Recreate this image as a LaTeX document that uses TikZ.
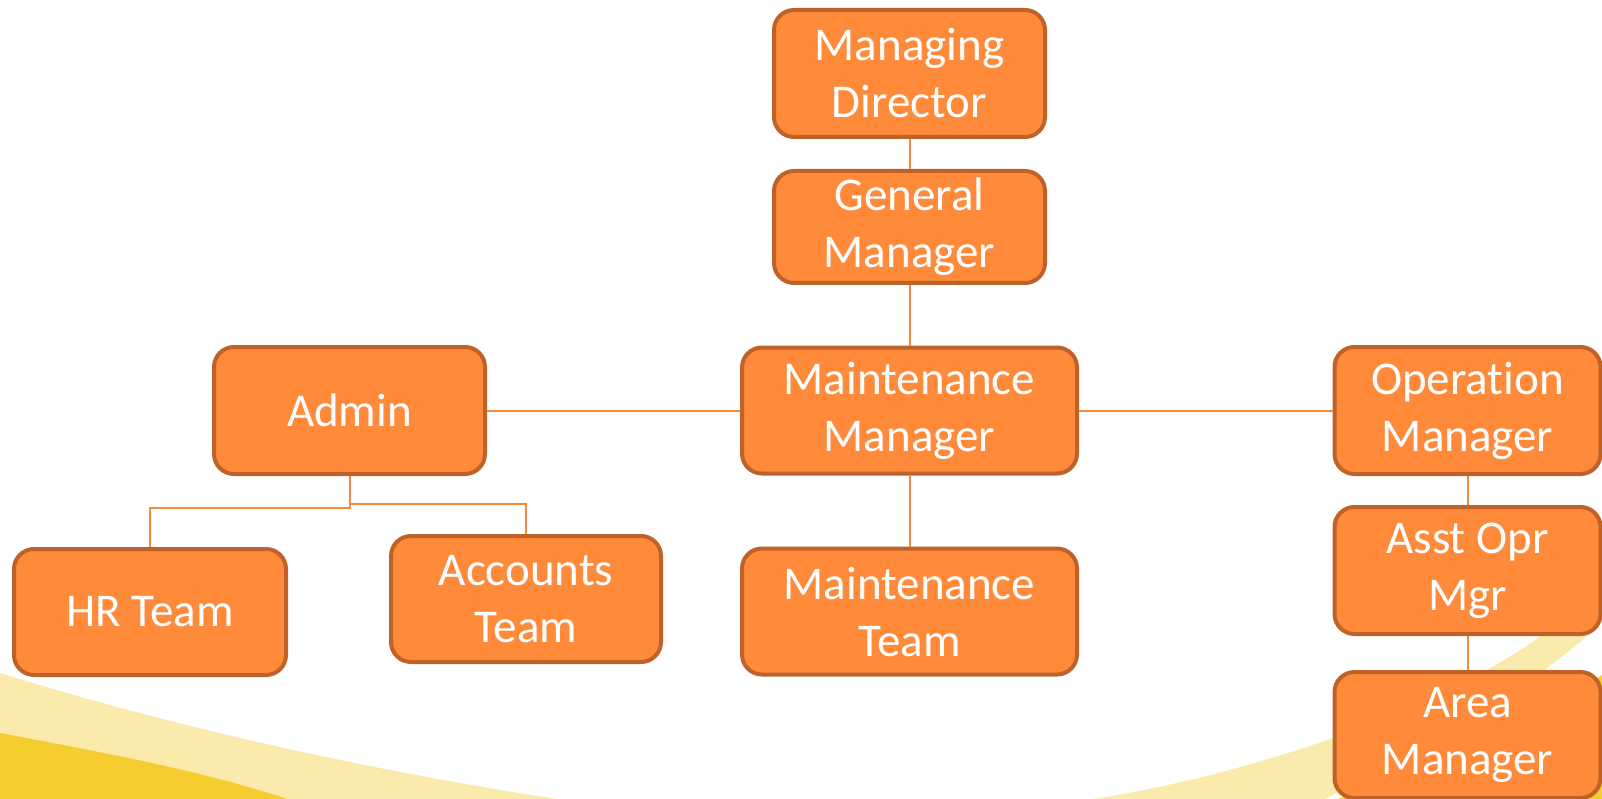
\documentclass[tikz,border=0pt]{standalone}
\usepackage{fontspec}
\setmainfont{Carlito}[RawFeature={-liga;-calt;-clig}]
\usepackage{tikz}
\usetikzlibrary{calc}

\definecolor{boxfill}{HTML}{FF8A3A}
\definecolor{boxline}{HTML}{BF6229}
\definecolor{linkcol}{HTML}{F7893B}
\definecolor{paleyel}{HTML}{FAEAAB}
\definecolor{deepyel}{HTML}{F5CD2F}

\begin{document}
\begin{tikzpicture}[x=1pt, y=-1pt,
    role/.style={draw=boxline, fill=boxfill, line width=4pt, rounded corners=20pt,
        text=white, align=center, inner sep=0pt, font=\fontsize{47}{57}\selectfont,
        minimum width=271pt, minimum height=127pt},
    wide role/.style={role, minimum width=335pt, minimum height=126pt},
    link/.style={draw=linkcol, line width=2pt}]
                    \useasboundingbox (0, 0) rectangle (1602, 799);

                    % swooshes at the bottom
                    \fill[paleyel] (0, 673) .. controls (200, 735) and (400, 775) .. (557, 799) -- (0, 799) -- cycle;
                    \fill[deepyel] (0, 733) .. controls (100, 752) and (200, 770) .. (287, 799) -- (0, 799) -- cycle;
                    \fill[paleyel] (1093, 799) .. controls (1250, 775) and (1440, 710) .. (1542, 635) -- (1602, 585)
                        -- (1602, 622) -- (1588, 635) .. controls (1520, 695) and (1420, 750) .. (1325, 799) -- cycle;
                    \fill[deepyel] (1338, 799) .. controls (1450, 760) and (1550, 710) .. (1602, 675) -- (1602, 799) -- cycle;

                    \node[role] (md) at (909.5, 73.5) {Managing\\Director};
                    \node[role, minimum height=112pt] (gm) at ($(md) + (0, 153.5)$) {General\\Manager};
                    \node[wide role] (mm) at ($(gm) + (0, 183.5)$) {Maintenance\\Manager};
                    \node[wide role] (mt) at ($(mm) + (0, 201)$) {Maintenance\\Team};

                    \node[role] (admin) at ($(mm) + (-560, 0)$) {Admin};
                    \node[role, minimum width=272pt, minimum height=126pt] (hr) at ($(admin) + (-199.5, 201.5)$) {HR Team};
                    \node[role, minimum width=270pt, minimum height=126pt] (acc) at ($(admin) + (176.5, 188.5)$) {Accounts\\Team};

                    \node[role, minimum width=266pt] (om) at ($(mm) + (558, 0)$) {Operation\\Manager};
                    \node[role, minimum width=266pt] (asst) at ($(om) + (0, 160)$) {Asst Opr\\Mgr};
                    \node[role, minimum width=266pt, minimum height=126pt] (area) at ($(asst) + (0, 164.5)$) {Area\\Manager};

                    \draw[link]
                    (md.south) -- (gm.north)
                    (gm.south) -- (mm.north)
                    (mm.south) -- (mt.north)
                    (admin.east) -- (mm.west)
                    (mm.east) -- (om.west)
                    (admin.south) -- ++(0, 32) -| (hr.north)
                    (admin.south) -- ++(0, 28) -| (acc.north)
                    (om.south) -- (asst.north)
                    (asst.south) -- (area.north);
                \end{tikzpicture}
\end{document}
